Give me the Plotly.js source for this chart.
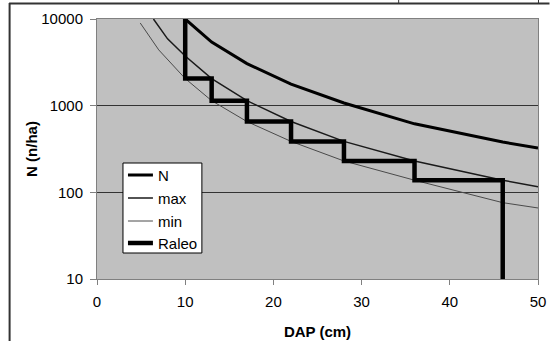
<!DOCTYPE html>
<html>
<head>
<meta charset="utf-8">
<script src="https://cdn.plot.ly/plotly-3.0.1.min.js"></script>
<style>
  html, body { margin: 0; padding: 0; background: #ffffff; }
  #chart { width: 550px; height: 341px; }
</style>
</head>
<body>
<div id="chart"></div>
<script>
// ---- data ----
var nDAP = [10, 13, 17, 22, 28, 36, 46, 50];
var nVal = [10000, 5410, 3055, 1770, 1074, 617, 380, 324];

var maxDAP = [6.4, 8, 10, 13, 17, 22, 28, 36, 46, 50];
var maxVal = [10000, 5900, 3740, 2055, 1141, 656, 387, 230, 138, 116];

var minDAP = [4.9, 7, 10, 13, 17, 22, 28, 36, 46, 50];
var minVal = [9000, 4400, 2055, 1141, 656, 387, 230, 138, 76, 66];

var raleoDAP = [10, 10, 13, 13, 17, 17, 22, 22, 28, 28, 36, 36, 46, 46];
var raleoVal = [10000, 2055, 2055, 1141, 1141, 656, 656, 387, 387, 230, 230, 138, 138, 10];

var seriesNames = ["N", "max", "min", "Raleo"];
var xTickVals = [0, 10, 20, 30, 40, 50];
var yTickVals = [10, 100, 1000, 10000];
var yTickText = ["10", "100", "1000", "10000"];
var xTitle = "DAP (cm)";
var yTitle = "N (n/ha)";

var FONT = "Liberation Sans, Arial, sans-serif";
var seriesStyles = [
  { color: "#000000", width: 3 },
  { color: "#1a1a1a", width: 1.5 },
  { color: "#4a4a4a", width: 1 },
  { color: "#000000", width: 4.5 }
];

var traces = [
  { x: nDAP, y: nVal, name: seriesNames[0], mode: "lines", type: "scatter", line: seriesStyles[0] },
  { x: maxDAP, y: maxVal, name: seriesNames[1], mode: "lines", type: "scatter", line: seriesStyles[1] },
  { x: minDAP, y: minVal, name: seriesNames[2], mode: "lines", type: "scatter", line: seriesStyles[2] },
  { x: raleoDAP, y: raleoVal, name: seriesNames[3], mode: "lines", type: "scatter", line: seriesStyles[3] }
];

var L = 97, R = 538.5, T = 19, B = 279, W = 550, H = 341;
function px(x) { return (x - L) / (R - L); }
function py(y) { return (B - y) / (B - T); }

var shapes = [
  { type: "line", xref: "paper", yref: "paper", x0: px(9), x1: px(550), y0: py(3.5), y1: py(3.5),
    line: { color: "#333333", width: 2 } },
  { type: "line", xref: "paper", yref: "paper", x0: px(9.5), x1: px(9.5), y0: py(3), y1: py(341),
    line: { color: "#333333", width: 2 } },
  { type: "line", xref: "paper", yref: "paper", x0: px(399), x1: px(399), y0: py(0), y1: py(3),
    line: { color: "#333333", width: 1 } },
  { type: "line", xref: "paper", yref: "paper", x0: px(539), x1: px(539), y0: py(0), y1: py(3),
    line: { color: "#333333", width: 1 } },
  // legend box
  { type: "rect", xref: "paper", yref: "paper", x0: px(123), x1: px(202), y0: py(163), y1: py(253),
    fillcolor: "#ffffff", line: { color: "#000000", width: 1 }, layer: "above" }
];
var annotations = [];
var legendRows = [175, 198, 221, 243];
for (var i = 0; i < seriesNames.length; i++) {
  shapes.push({ type: "line", xref: "paper", yref: "paper", x0: px(128), x1: px(153),
    y0: py(legendRows[i]), y1: py(legendRows[i]), line: seriesStyles[i], layer: "above" });
  annotations.push({ xref: "paper", yref: "paper", x: px(156), y: py(legendRows[i]),
    xanchor: "left", yanchor: "middle", showarrow: false, text: seriesNames[i],
    font: { family: FONT, size: 15, color: "#000000" } });
}

var layout = {
  width: W, height: H,
  margin: { l: L, r: W - R, t: T, b: H - B, pad: 0 },
  paper_bgcolor: "#ffffff",
  plot_bgcolor: "#c0c0c0",
  font: { family: FONT, size: 15, color: "#000000" },
  showlegend: false,
  xaxis: {
    range: [0, 50], tickvals: xTickVals, showgrid: false, zeroline: false,
    showline: true, linecolor: "#808080", linewidth: 1, mirror: true,
    ticks: "outside", ticklen: 5, tickcolor: "#808080", tickwidth: 1,
    ticklabelstandoff: 4,
    tickfont: { family: FONT, size: 15, color: "#000000" },
    title: { text: xTitle, font: { family: FONT, size: 15, color: "#000000", weight: "bold" }, standoff: 17 },
    automargin: false, fixedrange: true
  },
  yaxis: {
    type: "log", range: [1, 4], tickvals: yTickVals, ticktext: yTickText,
    showgrid: true, gridcolor: "#333333", gridwidth: 1, zeroline: false,
    showline: true, linecolor: "#808080", linewidth: 1, mirror: true,
    ticks: "outside", ticklen: 6, tickcolor: "#808080", tickwidth: 1,
    ticklabelstandoff: 4,
    tickfont: { family: FONT, size: 15, color: "#000000" },
    title: { text: yTitle, font: { family: FONT, size: 15, color: "#000000", weight: "bold" }, standoff: 0 },
    automargin: false, fixedrange: true
  },
  shapes: shapes,
  annotations: annotations
};

Plotly.newPlot("chart", traces, layout, { staticPlot: true, displayModeBar: false });
</script>
</body>
</html>
